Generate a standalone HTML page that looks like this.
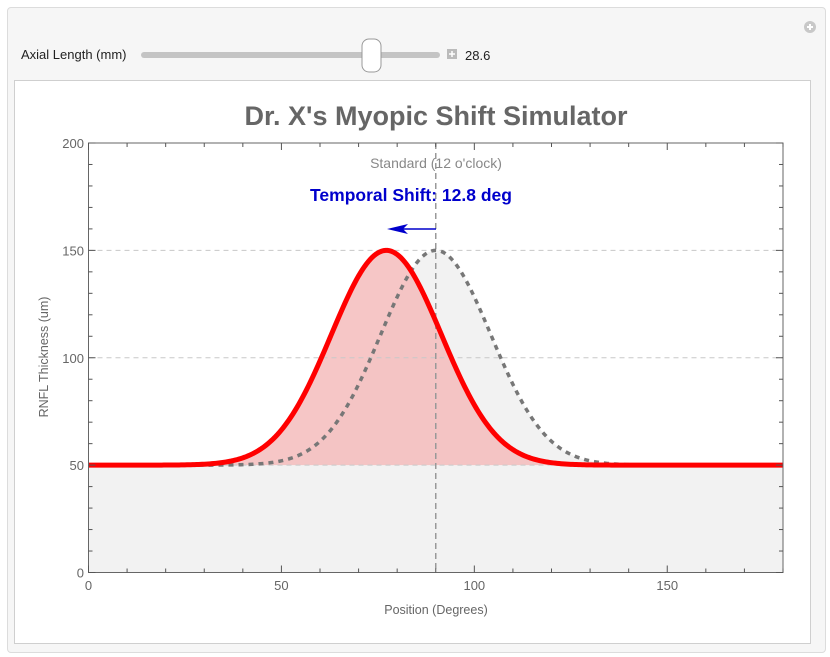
<!DOCTYPE html>
<html><head><meta charset="utf-8"><style>
body{margin:0;width:830px;height:657px;background:#fff;font-family:"Liberation Sans",sans-serif;overflow:hidden;position:relative}
.outer{position:absolute;left:7px;top:7px;width:817px;height:644px;background:#f6f6f6;border:1px solid #dcdcdc;border-radius:4px}
.inner{position:absolute;left:14px;top:80px;width:795px;height:562px;background:#fff;border:1px solid #cfcfcf}
</style></head><body>
<div class="outer"></div>
<div class="inner"></div>
<svg id="s" width="830" height="657" style="position:absolute;left:0;top:0" xmlns="http://www.w3.org/2000/svg">
<circle cx="810" cy="27" r="6" fill="#c8c8c8"/><path d="M807 27h6M810 24v6" stroke="#fff" stroke-width="2"/>
<text x="21" y="59" font-size="13" fill="#222">Axial Length (mm)</text>
<rect x="141" y="52" width="299" height="6" rx="3" fill="#c4c4c4"/>
<rect x="362" y="39" width="19" height="33" rx="7" fill="#fff" stroke="#999"/>
<rect x="447" y="49" width="10" height="10" fill="#bbb"/><path d="M449 54h6M452 51v6" stroke="#fff" stroke-width="1.5"/>
<text x="465" y="60" font-size="13" fill="#222">28.6</text>
<text x="436" y="125" font-size="27" font-weight="bold" fill="#666" text-anchor="middle">Dr. X's Myopic Shift Simulator</text>
<g id="plot"></g>
</svg>
<script>
var X0=88.5,SX=694.5/180,Y0=572.5,SY=429.5/200;
function px(x){return X0+x*SX}function py(y){return Y0-y*SY}
function g(x,c){return 50+100*Math.exp(-Math.pow(x-c,2)/(2*14.3*14.3))}
function path(c){var d="";for(var x=0;x<=180;x+=0.5){d+=(x?"L":"M")+px(x).toFixed(2)+" "+py(g(x,c)).toFixed(2)}return d}
var s="";
s+='<rect x="'+X0+'" y="'+py(50)+'" width="'+(180*SX)+'" height="'+(50*SY)+'" fill="#f2f2f2"/>';
var std=path(90),red=path(77.2);
s+='<path d="'+std+'L'+px(180)+' '+py(50)+'L'+px(0)+' '+py(50)+'Z" fill="#f2f2f2"/>';
s+='<path d="'+red+'L'+px(180)+' '+py(50)+'L'+px(0)+' '+py(50)+'Z" fill="#f4b8b8" fill-opacity="0.8"/>';
[50,100,150].forEach(function(v){s+='<line x1="'+X0+'" x2="'+px(180)+'" y1="'+py(v)+'" y2="'+py(v)+'" stroke="#c8c8c8" stroke-dasharray="5,4"/>'});
s+='<line x1="'+px(90)+'" x2="'+px(90)+'" y1="'+py(200)+'" y2="'+Y0+'" stroke="#999" stroke-width="1.5" stroke-dasharray="6,4"/>';
s+='<path d="'+std+'" fill="none" stroke="#777" stroke-width="3.5" stroke-dasharray="5,5"/>';
s+='<path d="'+red+'" fill="none" stroke="#f00" stroke-width="5"/>';
s+='<rect x="'+X0+'" y="'+py(200)+'" width="'+(180*SX)+'" height="'+(200*SY)+'" fill="none" stroke="#666" stroke-width="1"/>';
for(var x=0;x<=180;x+=10){var L=(x%50==0)?7:4;s+='<line x1="'+px(x)+'" x2="'+px(x)+'" y1="'+Y0+'" y2="'+(Y0-L)+'" stroke="#555"/><line x1="'+px(x)+'" x2="'+px(x)+'" y1="'+py(200)+'" y2="'+(py(200)+L)+'" stroke="#555"/>';
if(x%50==0)s+='<text x="'+px(x)+'" y="590" font-size="13" fill="#666" text-anchor="middle">'+x+'</text>';}
for(var y=0;y<=200;y+=10){var L=(y%50==0)?7:4;s+='<line x1="'+X0+'" x2="'+(X0+L)+'" y1="'+py(y)+'" y2="'+py(y)+'" stroke="#555"/><line x1="'+px(180)+'" x2="'+(px(180)-L)+'" y1="'+py(y)+'" y2="'+py(y)+'" stroke="#555"/>';
if(y%50==0)s+='<text x="84" y="'+(py(y)+5)+'" font-size="13" fill="#666" text-anchor="end">'+y+'</text>';}
s+='<text x="436" y="614" font-size="12.5" fill="#666" text-anchor="middle">Position (Degrees)</text>';
s+='<text transform="translate(48,357) rotate(-90)" font-size="12.5" fill="#666" text-anchor="middle">RNFL Thickness (um)</text>';
s+='<text x="436" y="168" font-size="14" fill="#888" text-anchor="middle">Standard (12 o\'clock)</text>';
s+='<text x="411" y="201" font-size="17.5" font-weight="bold" fill="#0000cc" text-anchor="middle">Temporal Shift: 12.8 deg</text>';
s+='<line x1="436" x2="396" y1="229" y2="229" stroke="#00c" stroke-width="1.5"/><path d="M387 229L408 224L403 229L408 234Z" fill="#00c"/>';
document.getElementById("plot").innerHTML=s;
</script>
</body></html>
